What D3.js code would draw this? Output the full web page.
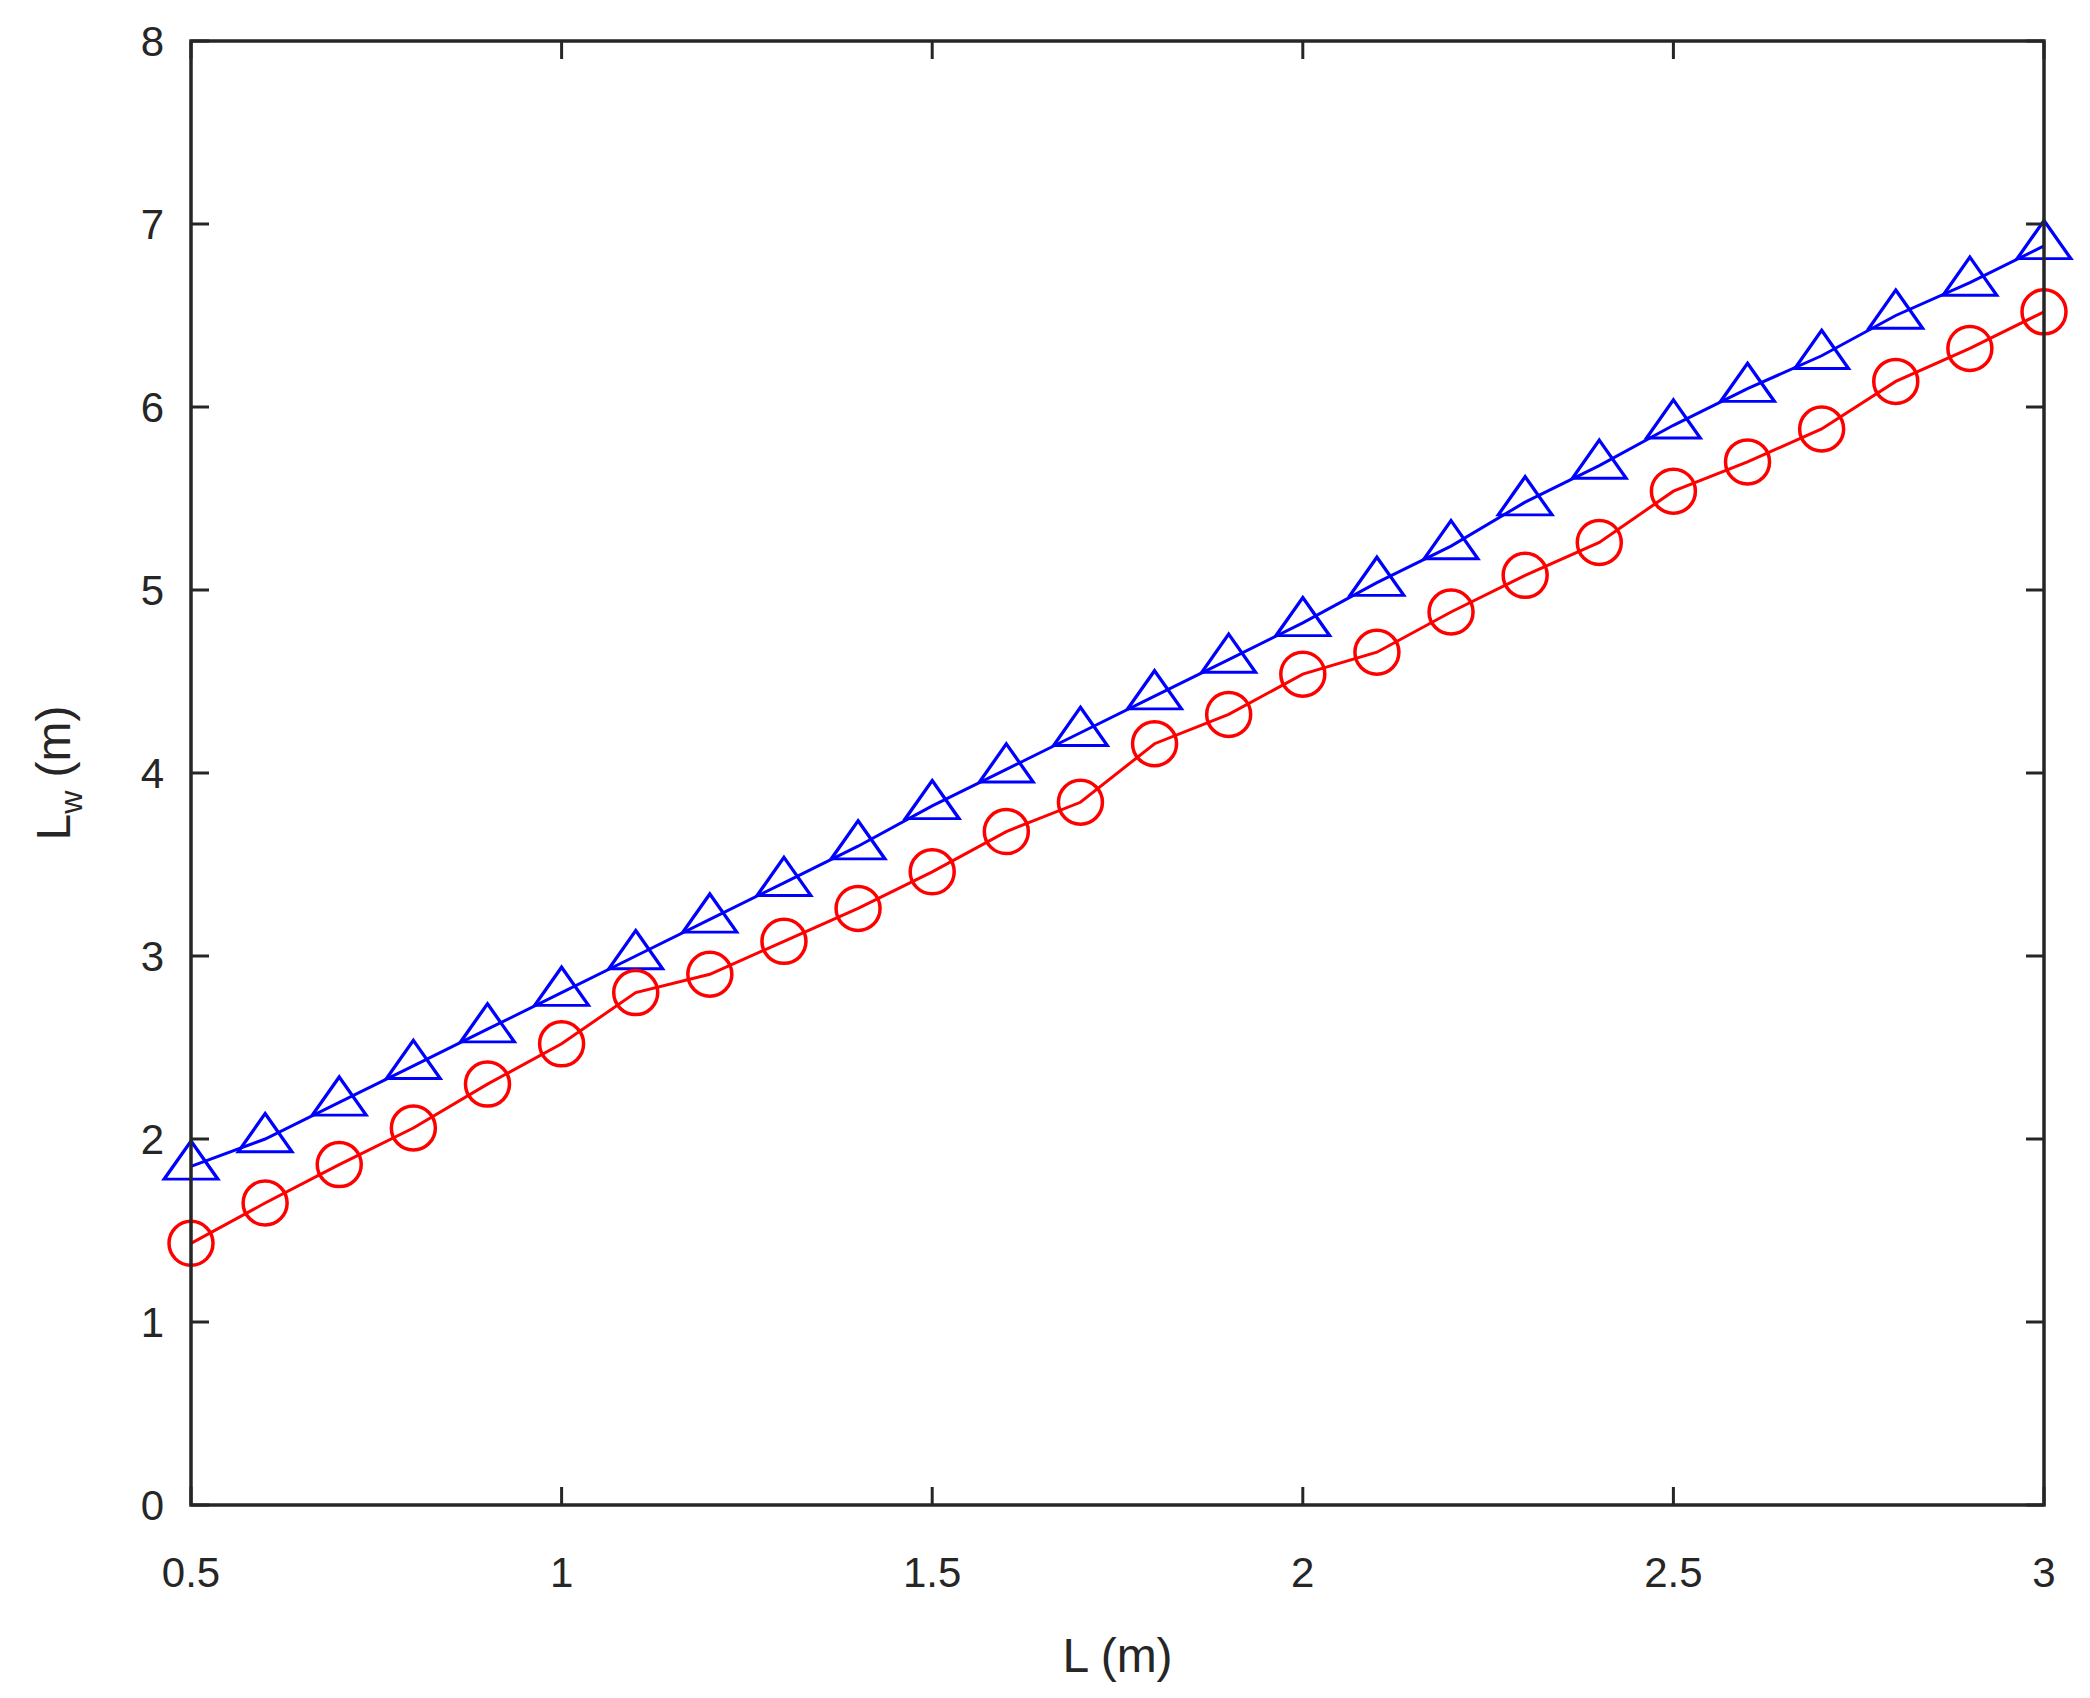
<!DOCTYPE html>
<html><head><meta charset="utf-8">
<script src="https://cdn.jsdelivr.net/npm/d3@7"></script>
<style>body{margin:0;background:#fff}</style></head>
<body><svg id="c" width="2090" height="1698"></svg>
<script>
const xVals=[0.5,0.6,0.7,0.8,0.9,1.0,1.1,1.2,1.3,1.4,1.5,1.6,1.7,1.8,1.9,2.0,2.1,2.2,2.3,2.4,2.5,2.6,2.7,2.8,2.9,3.0];
const blueVals=[1.85,2.0,2.2,2.4,2.6,2.8,3.0,3.2,3.4,3.6,3.82,4.02,4.22,4.42,4.62,4.82,5.04,5.24,5.48,5.68,5.9,6.1,6.28,6.5,6.68,6.88];
const redVals=[1.43,1.65,1.86,2.06,2.3,2.52,2.8,2.9,3.08,3.26,3.46,3.68,3.84,4.16,4.32,4.54,4.66,4.88,5.08,5.26,5.54,5.7,5.88,6.14,6.32,6.52];
const xTicks=[0.5,1,1.5,2,2.5,3];
const yTicks=[0,1,2,3,4,5,6,7,8];

const svg=d3.select("#c");
const L=191,R=2044,T=41,B=1505;
const x=d3.scaleLinear().domain([0.5,3]).range([L,R]);
const y=d3.scaleLinear().domain([0,8]).range([B,T]);
const font="Liberation Sans, Arial, sans-serif";
const tk=18;
const g=svg.append("g").attr("font-family",font).attr("fill","#262626");

const line=d3.line().x((d,i)=>x(xVals[i])).y(d=>y(d));
svg.append("path").datum(blueVals).attr("d",line).attr("fill","none").attr("stroke","#0000ff").attr("stroke-width",3);
svg.append("path").datum(redVals).attr("d",line).attr("fill","none").attr("stroke","#ff0000").attr("stroke-width",3);
const tri=d3.symbol().type(d3.symbolTriangle).size(1250);
svg.selectAll(".tri").data(blueVals).join("path").attr("d",tri)
 .attr("transform",(d,i)=>`translate(${x(xVals[i])},${y(d)}) scale(1,0.82)`)
 .attr("fill","none").attr("stroke","#0000ff").attr("stroke-width",3.5);
svg.selectAll(".cir").data(redVals).join("circle").attr("cx",(d,i)=>x(xVals[i])).attr("cy",d=>y(d)).attr("r",22)
 .attr("fill","none").attr("stroke","#ff0000").attr("stroke-width",3.5);

// frame
svg.append("rect").attr("x",L).attr("y",T).attr("width",R-L).attr("height",B-T).attr("fill","none").attr("stroke","#262626").attr("stroke-width",3.5);
xTicks.forEach(t=>{
  svg.append("line").attr("x1",x(t)).attr("x2",x(t)).attr("y1",B).attr("y2",B-tk).attr("stroke","#262626").attr("stroke-width",3);
  svg.append("line").attr("x1",x(t)).attr("x2",x(t)).attr("y1",T).attr("y2",T+tk).attr("stroke","#262626").attr("stroke-width",3);
  g.append("text").attr("x",x(t)).attr("y",1587).attr("text-anchor","middle").attr("font-size",42).text(t);
});
yTicks.forEach(t=>{
  svg.append("line").attr("x1",L).attr("x2",L+tk).attr("y1",y(t)).attr("y2",y(t)).attr("stroke","#262626").attr("stroke-width",3);
  svg.append("line").attr("x1",R).attr("x2",R-tk).attr("y1",y(t)).attr("y2",y(t)).attr("stroke","#262626").attr("stroke-width",3);
  g.append("text").attr("x",164).attr("y",y(t)+15).attr("text-anchor","end").attr("font-size",42).text(t);
});
g.append("text").attr("x",(L+R)/2).attr("y",1672).attr("text-anchor","middle").attr("font-size",48).text("L (m)");
const yl=g.append("text").attr("transform",`translate(70,${(T+B)/2}) rotate(-90)`).attr("text-anchor","middle").attr("font-size",48);
yl.append("tspan").text("L");
yl.append("tspan").attr("font-size",32).attr("dy",12).text("w");
yl.append("tspan").attr("dy",-12).text(" (m)");
</script></body></html>
